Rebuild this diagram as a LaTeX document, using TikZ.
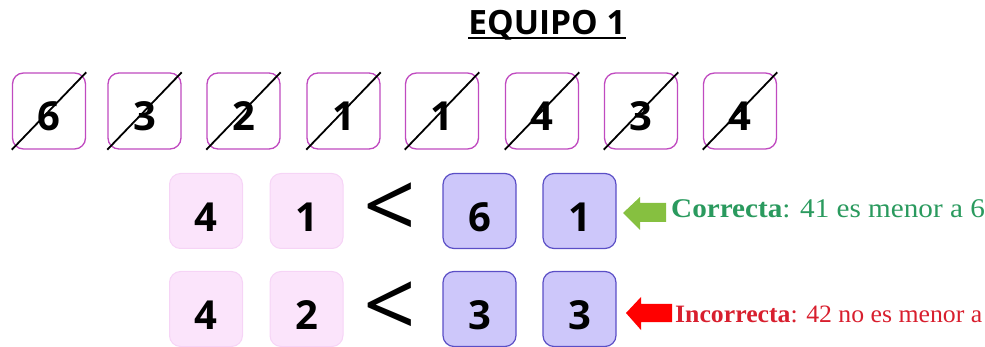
\documentclass[tikz,border=0pt]{standalone}
\usepackage{fontspec}
\usepackage{graphicx}
\newfontfamily\osans{Open Sans}
\newfontfamily\tserif{Liberation Serif}
\definecolor{boxmag}{HTML}{C04AC0}
\definecolor{pinkfill}{HTML}{FBE4FB}
\definecolor{pinkline}{HTML}{F6D4F6}
\definecolor{bluefill}{HTML}{CDC7FA}
\definecolor{blueline}{HTML}{5B4FC6}
\definecolor{okgreen}{HTML}{2A9A5E}
\definecolor{okarrow}{HTML}{86C040}
\definecolor{badred}{HTML}{D81F2E}
\definecolor{badarrow}{HTML}{FF0000}
\begin{document}
\begin{tikzpicture}[x=1pt,y=-1pt,
  crossbox/.style={draw=boxmag, line width=1.3pt, rounded corners=11pt, minimum width=73pt, minimum height=76pt, inner sep=0pt, fill=white},
  pinkbox/.style={draw=pinkline, line width=1pt, fill=pinkfill, rounded corners=11pt, minimum width=73pt, minimum height=75pt, inner sep=0pt},
  bluebox/.style={draw=blueline, line width=1.2pt, fill=bluefill, rounded corners=11pt, minimum width=73pt, minimum height=75pt, inner sep=0pt},
  digit/.style={inner sep=0pt, font=\osans\bfseries\fontsize{40}{40}\selectfont},
  lessthan/.style={inner sep=0pt, font=\osans\fontsize{92}{92}\selectfont},
  strike/.style={line width=1.8pt, black},
  okarr/.style={fill=okarrow},
  badarr/.style={fill=badarrow},
  msg/.style={anchor=base west, inner sep=0pt}
]
\useasboundingbox (0,0) rectangle (985,347);
\clip (0,0) rectangle (985,347);

% title
\node[inner sep=0pt, anchor=base, font=\osans\bfseries\fontsize{33.5}{33.5}\selectfont] (title) at (547,35) {EQUIPO 1};
\draw[line width=2pt] ([yshift=-3pt]title.base west) -- ([yshift=-3pt]title.base east);

% crossed-out cards
\foreach \n/\x/\d in {1/49/6, 2/144.5/3, 3/243.5/2, 4/343.5/1, 5/442/1, 6/542/4, 7/641/3, 8/740/4}{
  \node[crossbox] (t\n) at (\x,111) {};
  \node[digit] (td\n) at ([yshift=-5pt]t\n.center) {\d};
  \draw[strike] (t\n.south west) -- (t\n.north east);
}

% row 1
\node[pinkbox] (a1) at (206,211) {};
\node[digit] (ad1) at ([yshift=-6pt]a1.center) {4};
\node[pinkbox] (a2) at (306.5,211) {};
\node[digit] (ad2) at ([yshift=-6pt]a2.center) {1};
\node[lessthan] (lt1) at (390,211) {<};
\node[bluebox] (a3) at (479.5,211) {};
\node[digit] (ad3) at ([yshift=-6pt]a3.center) {6};
\node[bluebox] (a4) at (579.5,211) {};
\node[digit] (ad4) at ([yshift=-6pt]a4.center) {1};

% row 2
\node[pinkbox] (b1) at (206,309) {};
\node[digit] (bd1) at ([yshift=-6pt]b1.center) {4};
\node[pinkbox] (b2) at (306.5,309) {};
\node[digit] (bd2) at ([yshift=-6pt]b2.center) {2};
\node[lessthan] (lt2) at (390,310) {<};
\node[bluebox] (b3) at (479.5,309) {};
\node[digit] (bd3) at ([yshift=-6pt]b3.center) {3};
\node[bluebox] (b4) at (579.5,309) {};
\node[digit] (bd4) at ([yshift=-6pt]b4.center) {3};

% arrows
\fill[okarr] (623,213) -- (640,197) -- (640,203) -- (666,203) -- (666,222) -- (640,222) -- (640,230) -- cycle;
\fill[badarr] (626,313) -- (641,297) -- (641,304) -- (672,304) -- (672,322) -- (641,322) -- (641,330) -- cycle;

% messages
\node[msg, text=okgreen] (m1) at (671,218) {\tserif\fontsize{27}{27}\selectfont\scalebox{1.08}[1]{\textbf{Correcta}: 41 es menor a 61}};
\node[msg, text=badred] (m2) at (675,322) {\tserif\fontsize{25}{25}\selectfont\scalebox{1.03}[1]{\textbf{Incorrecta}: 42 no es menor a 33}};
\end{tikzpicture}
\end{document}
